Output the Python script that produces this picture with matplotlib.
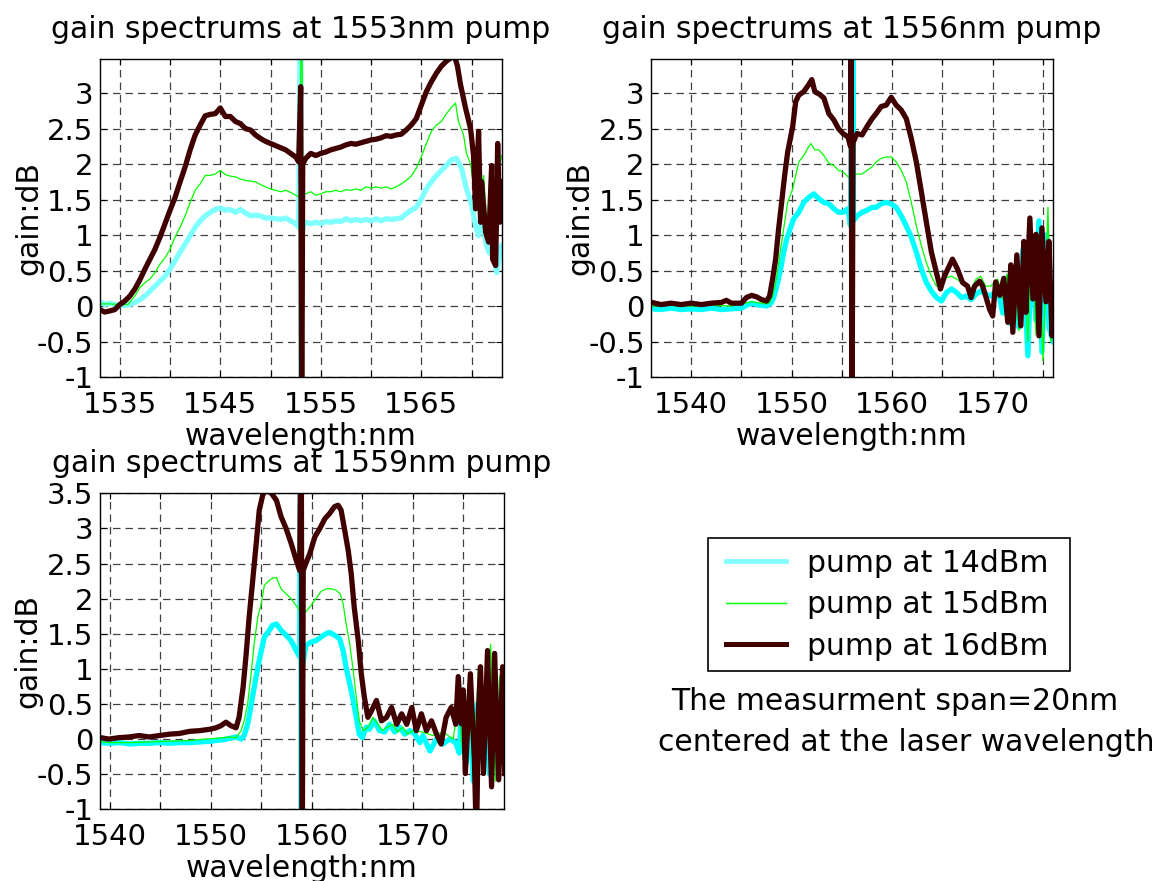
import matplotlib

matplotlib.use("Agg")
import matplotlib.pyplot as plt
from matplotlib.lines import Line2D
from matplotlib.patches import Rectangle

# ---- panel 1: pump at 1553 nm ----
P1_WL_14 = [1533.0, 1533.5, 1534.0, 1534.5, 1535.0, 1535.5, 1536.0, 1536.5, 1537.0, 1537.5,
            1538.0, 1538.5, 1539.0, 1539.5, 1540.0, 1540.5, 1541.0, 1541.5, 1542.0, 1542.5,
            1543.0, 1543.5, 1544.0, 1544.5, 1545.0, 1545.5, 1546.0, 1546.5, 1547.0, 1547.5,
            1548.0, 1548.5, 1549.0, 1549.5, 1550.0, 1550.5, 1551.0, 1551.5, 1552.0, 1552.5,
            1552.8, 1553.0, 1553.05, 1553.1, 1553.3, 1553.5, 1554.0, 1554.5, 1555.0, 1555.5,
            1556.0, 1556.5, 1557.0, 1557.5, 1558.0, 1558.5, 1559.0, 1559.5, 1560.0, 1560.5,
            1561.0, 1561.5, 1562.0, 1562.5, 1563.0, 1563.5, 1564.0, 1564.5, 1565.0, 1565.5,
            1566.0, 1566.5, 1567.0, 1567.5, 1568.0, 1568.5, 1569.0, 1569.5, 1570.0, 1570.4,
            1570.7, 1571.0, 1571.4, 1571.7, 1572.2, 1572.5, 1572.9, 1573.0]
P1_GAIN_14 = [0.06, 0.02, 0.04, 0.02, 0.01, 0.01, 0.02, 0.05, 0.09, 0.14,
              0.21, 0.28, 0.35, 0.42, 0.52, 0.64, 0.76, 0.87, 0.99, 1.11,
              1.20, 1.27, 1.32, 1.36, 1.38, 1.35, 1.36, 1.32, 1.36, 1.31,
              1.27, 1.28, 1.27, 1.24, 1.24, 1.23, 1.22, 1.24, 1.20, 1.16,
              1.11, 5.0, -2.0, 0.97, 1.15, 1.18, 1.16, 1.18, 1.16, 1.19,
              1.18, 1.20, 1.19, 1.23, 1.20, 1.22, 1.20, 1.22, 1.20, 1.23,
              1.20, 1.23, 1.22, 1.23, 1.24, 1.30, 1.35, 1.39, 1.51, 1.65,
              1.75, 1.84, 1.91, 1.98, 2.06, 2.08, 1.94, 1.65, 1.42, 1.13,
              0.99, 1.32, 0.90, 0.76, 0.71, 0.47, 0.80, 0.85]

P1_WL_15 = [1533.0, 1534.0, 1535.0, 1535.8, 1536.5, 1537.0, 1537.5, 1538.0, 1538.5, 1539.0,
            1539.5, 1540.0, 1540.5, 1541.0, 1541.5, 1542.0, 1542.5, 1543.0, 1543.5, 1544.0,
            1544.5, 1545.0, 1545.5, 1546.0, 1546.5, 1547.0, 1547.5, 1548.0, 1548.5, 1549.0,
            1549.5, 1550.0, 1550.5, 1551.0, 1551.5, 1552.0, 1552.5, 1552.9, 1553.1, 1553.2,
            1553.5, 1554.0, 1554.5, 1555.0, 1555.5, 1556.0, 1556.5, 1557.0, 1557.5, 1558.0,
            1558.5, 1559.0, 1559.5, 1560.0, 1560.5, 1561.0, 1561.5, 1562.0, 1562.5, 1563.0,
            1563.5, 1564.0, 1564.5, 1565.0, 1565.5, 1566.0, 1566.5, 1567.0, 1567.5, 1568.0,
            1568.4, 1568.7, 1569.2, 1569.5, 1569.9, 1570.3, 1570.7, 1571.2, 1571.6, 1572.0,
            1572.4, 1572.7, 1573.0]
P1_GAIN_15 = [0.03, 0.03, 0.02, 0.02, 0.14, 0.26, 0.33, 0.38, 0.47, 0.59,
              0.68, 0.80, 0.97, 1.11, 1.27, 1.46, 1.63, 1.72, 1.84, 1.84,
              1.86, 1.91, 1.85, 1.83, 1.82, 1.79, 1.77, 1.76, 1.75, 1.71,
              1.68, 1.65, 1.63, 1.61, 1.63, 1.60, 1.56, 1.53, 5.0, 1.58,
              1.58, 1.61, 1.56, 1.58, 1.61, 1.61, 1.63, 1.61, 1.64, 1.63,
              1.65, 1.63, 1.68, 1.66, 1.68, 1.66, 1.68, 1.65, 1.68, 1.72,
              1.77, 1.83, 1.94, 2.10, 2.29, 2.46, 2.55, 2.60, 2.71, 2.80,
              2.86, 2.60, 2.41, 2.15, 2.00, 1.60, 1.30, 1.84, 1.00, 1.50,
              0.70, 1.90, 2.12]

P1_WL_16 = [1533.0, 1533.5, 1534.0, 1534.5, 1535.0, 1535.5, 1536.0, 1536.5, 1537.0, 1537.5,
            1538.0, 1538.5, 1539.0, 1539.5, 1540.0, 1540.5, 1541.0, 1541.5, 1542.0, 1542.5,
            1543.0, 1543.5, 1544.0, 1544.5, 1545.0, 1545.5, 1546.0, 1546.5, 1547.0, 1547.5,
            1548.0, 1548.5, 1549.0, 1549.5, 1550.0, 1550.5, 1551.0, 1551.5, 1552.0, 1552.5,
            1552.8, 1553.0, 1553.1, 1553.2, 1553.5, 1554.0, 1554.5, 1555.0, 1555.5, 1556.0,
            1556.5, 1557.0, 1557.5, 1558.0, 1558.5, 1559.0, 1559.5, 1560.0, 1560.5, 1561.0,
            1561.5, 1562.0, 1562.5, 1563.0, 1563.5, 1564.0, 1564.5, 1565.0, 1565.5, 1566.0,
            1566.5, 1567.0, 1567.5, 1568.0, 1568.3, 1568.6, 1568.9, 1569.4, 1569.9, 1570.2,
            1570.4, 1570.7, 1570.9, 1571.0, 1571.4, 1571.7, 1572.0, 1572.1, 1572.4, 1572.6,
            1572.8, 1572.95, 1573.0]
P1_GAIN_16 = [-0.05, -0.085, -0.07, -0.05, 0.02, 0.07, 0.14, 0.24, 0.37, 0.52,
              0.66, 0.80, 0.97, 1.16, 1.35, 1.53, 1.75, 1.96, 2.20, 2.41,
              2.55, 2.68, 2.70, 2.71, 2.79, 2.67, 2.67, 2.60, 2.57, 2.50,
              2.48, 2.41, 2.36, 2.32, 2.29, 2.26, 2.23, 2.20, 2.15, 2.10,
              2.03, 3.09, -2.0, 2.00, 2.08, 2.15, 2.12, 2.15, 2.17, 2.20,
              2.22, 2.24, 2.27, 2.29, 2.28, 2.30, 2.32, 2.34, 2.35, 2.37,
              2.40, 2.39, 2.41, 2.42, 2.48, 2.55, 2.64, 2.83, 3.02, 3.16,
              3.28, 3.38, 3.45, 3.50, 3.52, 3.38, 3.12, 2.79, 2.50, 2.12,
              1.37, 2.46, 1.18, 1.75, 1.04, 0.90, 1.98, 0.66, 0.57, 2.29,
              1.18, 1.75, 1.51]

# ---- panel 2: pump at 1556 nm ----
P2_WL_14 = [1536.1, 1537.0, 1538.0, 1539.0, 1540.0, 1541.0, 1542.0, 1543.0, 1544.0, 1545.0,
            1545.5, 1546.0, 1546.5, 1547.0, 1547.5, 1548.0, 1548.25, 1548.6, 1548.9, 1549.2,
            1549.5, 1549.85, 1550.2, 1550.7, 1551.2, 1551.7, 1552.2, 1552.7, 1553.2, 1553.7,
            1554.2, 1554.65, 1555.1, 1555.6, 1555.85, 1556.1, 1556.15, 1556.5, 1557.0, 1557.5,
            1558.0, 1558.4, 1558.9, 1559.4, 1559.9, 1560.4, 1560.9, 1561.4, 1561.9, 1562.4,
            1562.9, 1563.4, 1563.9, 1564.4, 1564.9, 1565.4, 1565.9, 1566.4, 1566.9, 1567.4,
            1567.85, 1568.35, 1568.8, 1569.3, 1569.8, 1570.5, 1571.0, 1571.4, 1571.8, 1572.2,
            1572.6, 1573.0, 1573.5, 1573.9, 1574.3, 1574.6, 1574.9, 1575.3, 1575.6, 1576.0]
P2_GAIN_14 = [-0.04, -0.05, -0.03, -0.05, -0.04, -0.05, -0.03, -0.05, -0.04, -0.03,
              0.01, 0.04, 0.02, 0.01, 0.00, 0.05, 0.14, 0.33, 0.52, 0.76,
              0.94, 1.09, 1.23, 1.32, 1.46, 1.53, 1.58, 1.51, 1.46, 1.44,
              1.37, 1.32, 1.32, 1.37, 1.13, 5.0, 1.20, 1.27, 1.32, 1.35,
              1.39, 1.39, 1.44, 1.46, 1.44, 1.39, 1.27, 1.13, 0.97, 0.76,
              0.52, 0.33, 0.21, 0.12, 0.07, 0.19, 0.24, 0.19, 0.12, 0.14,
              0.09, 0.17, 0.21, 0.17, 0.14, 0.24, -0.10, 0.40, -0.25, 0.50,
              -0.30, 0.80, -0.70, 0.90, -0.20, 1.20, -0.65, 1.00, -0.30, -0.50]

P2_WL_15 = [1536.1, 1538.0, 1540.0, 1542.0, 1544.0, 1546.0, 1547.5, 1547.8, 1548.1, 1548.4,
            1548.7, 1549.0, 1549.3, 1549.6, 1550.1, 1550.4, 1550.7, 1551.2, 1551.5, 1551.9,
            1552.3, 1552.7, 1553.2, 1553.7, 1554.2, 1554.65, 1555.1, 1555.6, 1556.5, 1557.0,
            1557.5, 1558.0, 1558.4, 1558.9, 1559.4, 1559.9, 1560.4, 1560.9, 1561.4, 1561.9,
            1562.4, 1562.9, 1563.4, 1563.9, 1564.4, 1564.9, 1565.4, 1565.9, 1566.4, 1566.9,
            1567.4, 1567.85, 1568.35, 1568.8, 1569.3, 1569.8, 1570.5, 1571.0, 1571.4, 1571.8,
            1572.2, 1572.6, 1573.0, 1573.5, 1573.9, 1574.3, 1574.6, 1575.0, 1575.5, 1575.8,
            1576.0]
P2_GAIN_15 = [0.00, 0.01, 0.00, 0.01, 0.00, 0.06, 0.03, 0.05, 0.14, 0.33,
              0.61, 0.90, 1.18, 1.46, 1.65, 1.84, 2.03, 2.12, 2.20, 2.29,
              2.20, 2.20, 2.12, 2.01, 1.98, 1.91, 1.89, 1.82, 1.86, 1.86,
              1.91, 1.96, 2.03, 2.08, 2.10, 2.10, 2.03, 1.91, 1.75, 1.46,
              1.13, 0.85, 0.61, 0.42, 0.28, 0.33, 0.40, 0.42, 0.38, 0.33,
              0.28, 0.24, 0.38, 0.42, 0.28, 0.28, 0.38, 0.10, 0.45, -0.20,
              0.55, -0.35, 0.75, -0.50, 1.00, -0.40, 1.00, -0.77, 1.39, -0.50,
              -0.30]

P2_WL_16 = [1536.1, 1537.0, 1538.0, 1539.0, 1540.0, 1541.0, 1542.0, 1543.0, 1543.5, 1544.0,
            1545.0, 1545.5, 1546.0, 1546.5, 1547.0, 1547.5, 1547.8, 1548.1, 1548.4, 1548.7,
            1549.0, 1549.3, 1549.6, 1550.1, 1550.4, 1550.7, 1551.2, 1551.7, 1552.0, 1552.3,
            1552.8, 1553.2, 1553.7, 1554.2, 1554.65, 1555.1, 1555.6, 1555.85, 1555.9, 1556.0,
            1556.1, 1556.5, 1557.0, 1557.5, 1558.0, 1558.4, 1558.9, 1559.4, 1559.9, 1560.4,
            1560.9, 1561.4, 1561.9, 1562.4, 1562.9, 1563.4, 1563.9, 1564.4, 1564.8, 1565.2,
            1565.7, 1566.0, 1566.5, 1567.0, 1567.5, 1567.85, 1568.2, 1568.7, 1569.0, 1569.3,
            1569.7, 1570.0, 1570.3, 1570.7, 1571.1, 1571.5, 1571.8, 1572.0, 1572.4, 1572.8,
            1573.1, 1573.3, 1573.7, 1574.0, 1574.3, 1574.6, 1574.9, 1575.3, 1575.6, 1575.9,
            1576.0]
P2_GAIN_16 = [0.05, 0.02, 0.04, 0.02, 0.04, 0.02, 0.04, 0.05, 0.08, 0.04,
              0.04, 0.12, 0.15, 0.13, 0.09, 0.07, 0.14, 0.38, 0.66, 1.09,
              1.46, 1.84, 2.17, 2.53, 2.88, 2.97, 3.02, 3.12, 3.19, 3.02,
              2.98, 2.93, 2.71, 2.62, 2.50, 2.43, 2.38, 2.25, 5.0, -2.0,
              2.30, 2.43, 2.41, 2.53, 2.64, 2.71, 2.81, 2.83, 2.94, 2.83,
              2.76, 2.64, 2.36, 2.03, 1.61, 1.18, 0.76, 0.47, 0.24, 0.42,
              0.57, 0.66, 0.52, 0.33, 0.28, 0.12, 0.28, 0.35, 0.28, 0.14,
              -0.05, -0.14, 0.34, 0.15, 0.39, -0.23, 0.58, -0.37, 0.72, -0.28,
              0.91, -0.09, 1.24, 0.10, 1.01, -0.42, 1.10, 0.06, 0.91, -0.42,
              0.06]

# ---- panel 3: pump at 1559 nm ----
P3_WL_14 = [1539.1, 1540.0, 1541.0, 1542.0, 1543.0, 1544.0, 1545.0, 1546.0, 1547.0, 1548.0,
            1549.0, 1550.0, 1550.5, 1551.2, 1551.85, 1552.5, 1553.0, 1553.3, 1553.65, 1553.95,
            1554.3, 1554.65, 1555.0, 1555.3, 1555.8, 1556.1, 1556.5, 1556.95, 1557.45, 1557.95,
            1558.45, 1558.8, 1558.9, 1558.95, 1559.05, 1559.4, 1559.9, 1560.4, 1560.9, 1561.4,
            1561.75, 1562.25, 1562.75, 1563.1, 1563.4, 1563.75, 1564.1, 1564.4, 1564.7, 1565.0,
            1565.4, 1565.7, 1566.2, 1566.7, 1567.2, 1567.7, 1568.2, 1568.7, 1569.2, 1569.7,
            1570.2, 1570.7, 1571.0, 1571.7, 1572.35, 1573.0, 1573.65, 1574.25, 1574.6, 1574.9,
            1575.3, 1575.7, 1576.0, 1576.4, 1576.8, 1577.2, 1577.6, 1578.0, 1578.4, 1578.8,
            1579.1]
P3_GAIN_14 = [-0.05, -0.06, -0.05, -0.07, -0.06, -0.06, -0.05, -0.06, -0.05, -0.05,
              -0.04, -0.03, -0.02, -0.01, 0.01, 0.03, 0.00, 0.05, 0.21, 0.45,
              0.74, 1.02, 1.26, 1.45, 1.55, 1.62, 1.64, 1.55, 1.48, 1.40,
              1.26, 1.17, 5.0, -2.0, 1.00, 1.33, 1.38, 1.40, 1.45, 1.50,
              1.52, 1.48, 1.43, 1.26, 1.02, 0.79, 0.55, 0.31, 0.07, 0.02,
              0.17, 0.14, 0.26, 0.12, 0.10, 0.21, 0.10, 0.17, 0.07, 0.12,
              0.07, -0.05, 0.05, -0.17, 0.00, -0.07, 0.00, -0.05, -0.20, 0.70,
              -0.35, 0.30, -0.60, 0.50, -0.30, 0.60, -0.50, 0.50, -0.45, 0.40,
              0.35]

P3_WL_15 = [1539.1, 1540.0, 1542.0, 1544.0, 1546.0, 1548.0, 1549.5, 1550.5, 1551.85, 1552.5,
            1553.0, 1553.3, 1553.65, 1553.95, 1554.3, 1554.65, 1555.0, 1555.3, 1555.8, 1556.1,
            1556.5, 1556.95, 1557.45, 1557.95, 1558.45, 1558.8, 1559.4, 1559.9, 1560.4, 1560.9,
            1561.4, 1561.9, 1562.4, 1562.8, 1563.1, 1563.4, 1563.75, 1564.1, 1564.4, 1564.7,
            1565.1, 1565.55, 1566.05, 1566.55, 1567.0, 1567.5, 1568.0, 1568.5, 1569.0, 1569.5,
            1570.0, 1571.0, 1572.0, 1573.0, 1574.0, 1574.5, 1575.0, 1575.5, 1576.0, 1576.5,
            1577.0, 1577.7, 1578.2, 1578.6, 1579.1]
P3_GAIN_15 = [-0.04, -0.05, -0.05, -0.04, -0.03, -0.02, 0.00, 0.01, 0.03, 0.02,
              0.12, 0.26, 0.50, 0.88, 1.36, 1.74, 1.93, 2.19, 2.26, 2.29,
              2.30, 2.14, 2.07, 2.00, 1.90, 1.83, 1.81, 1.90, 2.00, 2.10,
              2.14, 2.14, 2.12, 2.07, 1.93, 1.64, 1.36, 0.98, 0.60, 0.26,
              0.12, 0.17, 0.31, 0.21, 0.12, 0.17, 0.21, 0.10, 0.17, 0.07,
              0.12, 0.10, 0.05, 0.10, 0.00, 0.50, -0.30, 0.80, -0.50, 1.00,
              -0.40, 1.35, -0.60, 0.90, -0.50]

P3_WL_16 = [1539.1, 1539.9, 1540.9, 1541.9, 1542.9, 1543.9, 1544.9, 1545.9, 1546.9, 1547.9,
            1548.9, 1549.9, 1550.5, 1551.0, 1551.5, 1552.0, 1552.5, 1552.8, 1553.2, 1553.5,
            1553.8, 1554.15, 1554.5, 1554.8, 1555.15, 1555.5, 1556.0, 1556.5, 1556.95, 1557.45,
            1557.95, 1558.45, 1558.8, 1558.95, 1559.05, 1559.15, 1559.4, 1559.8, 1560.3, 1560.8,
            1561.3, 1561.75, 1562.25, 1562.6, 1562.9, 1563.25, 1563.6, 1563.9, 1564.2, 1564.6,
            1564.9, 1565.2, 1565.55, 1565.9, 1566.4, 1566.9, 1567.4, 1567.9, 1568.4, 1568.9,
            1569.4, 1569.9, 1570.35, 1570.85, 1571.35, 1571.85, 1572.35, 1572.8, 1573.3, 1573.8,
            1574.25, 1574.5, 1574.8, 1575.0, 1575.2, 1575.7, 1576.1, 1576.3, 1576.5, 1576.7,
            1577.0, 1577.4, 1577.8, 1578.1, 1578.5, 1578.9, 1579.1]
P3_GAIN_16 = [0.02, 0.00, 0.02, 0.03, 0.05, 0.03, 0.05, 0.07, 0.08, 0.11,
              0.12, 0.14, 0.16, 0.19, 0.24, 0.19, 0.16, 0.31, 0.74, 1.21,
              1.74, 2.26, 2.79, 3.26, 3.48, 3.55, 3.50, 3.40, 3.17, 3.00,
              2.79, 2.55, 2.40, 5.0, -2.0, 2.40, 2.50, 2.64, 2.88, 3.00,
              3.14, 3.21, 3.31, 3.33, 3.26, 2.98, 2.69, 2.36, 1.88, 1.40,
              0.93, 0.60, 0.31, 0.40, 0.55, 0.26, 0.31, 0.45, 0.21, 0.36,
              0.21, 0.45, 0.12, 0.36, 0.12, 0.26, 0.07, -0.07, 0.31, 0.45,
              0.21, 0.89, 0.22, 0.70, -0.49, 0.93, -0.30, -1.50, 0.40, 1.03,
              -0.49, 1.26, -0.68, 1.22, -0.58, 1.03, -0.49]

SERIES_LABELS = ["pump at 14dBm", "pump at 15dBm", "pump at 16dBm"]
TITLES = ["gain spectrums at 1553nm pump",
          "gain spectrums at 1556nm pump",
          "gain spectrums at 1559nm pump"]
XLIMS = [(1533, 1573), (1536, 1576), (1539, 1579)]
XTICKS = [[1535, 1540, 1545, 1550, 1555, 1560, 1565, 1570],
          [1540, 1545, 1550, 1555, 1560, 1565, 1570, 1575],
          [1540, 1545, 1550, 1555, 1560, 1565, 1570, 1575]]
XTICK_LABELS = [["1535", "", "1545", "", "1555", "", "1565", ""],
                ["1540", "", "1550", "", "1560", "", "1570", ""],
                ["1540", "", "1550", "", "1560", "", "1570", ""]]
YLIMS = [(-1, 3.48), (-1, 3.48), (-1, 3.5)]
YTICKS = [[-1, -0.5, 0, 0.5, 1, 1.5, 2, 2.5, 3],
          [-1, -0.5, 0, 0.5, 1, 1.5, 2, 2.5, 3],
          [-1, -0.5, 0, 0.5, 1, 1.5, 2, 2.5, 3, 3.5]]
YTICK_LABELS = [["-1", "-0.5", "0", "0.5", "1", "1.5", "2", "2.5", "3"],
                ["-1", "-0.5", "0", "0.5", "1", "1.5", "2", "2.5", "3"],
                ["-1", "-0.5", "0", "0.5", "1", "1.5", "2", "2.5", "3", "3.5"]]
NOTE_LINES = ["The measurment span=20nm", "centered at the laser wavelength"]

CYAN_LIGHT = "#80FFFF"
CYAN = "#00FFFF"
GREEN = "#00FF00"
BROWN = "#400000"
FS = 21.5

W, H = 1173, 881


def px_rect(left, top, right, bottom):
    return [left / W, 1 - bottom / H, (right - left) / W, (bottom - top) / H]


def draw_panel(ax, i, series, cyan):
    (wl14, g14), (wl15, g15), (wl16, g16) = series
    ax.plot(wl14, g14, color=cyan, linewidth=3.8, solid_joinstyle="round")
    ax.plot(wl15, g15, color=GREEN, linewidth=0.9)
    ax.plot(wl16, g16, color=BROWN, linewidth=3.8, solid_joinstyle="round")

    ax.set_xlim(*XLIMS[i])
    ax.set_ylim(*YLIMS[i])
    ax.set_xticks(XTICKS[i])
    ax.set_xticklabels(XTICK_LABELS[i])
    ax.set_yticks(YTICKS[i])
    ax.set_yticklabels(YTICK_LABELS[i])
    ax.tick_params(direction="in", length=4, width=0.8, top=True, right=True,
                   labelsize=21)
    ax.tick_params(axis="x", pad=10)
    ax.tick_params(axis="y", pad=4.5)
    ax.grid(True, color="#404040", linewidth=0.9, linestyle=(0, (6, 4)))
    for sp in ax.spines.values():
        sp.set_linewidth(1.0)

    ax.set_title(TITLES[i], fontsize=FS, pad=15)
    ax.set_xlabel("wavelength:nm", fontsize=FS)
    ax.set_ylabel("gain:dB", fontsize=FS)
    ax.xaxis.set_label_coords(0.5, -0.142)
    ax.yaxis.set_label_coords(-0.141, 0.5)


fig = plt.figure(figsize=(W / 100, H / 100), dpi=100)

ax1 = fig.add_axes(px_rect(99.7, 59, 501.7, 377))
ax2 = fig.add_axes(px_rect(651, 59, 1053, 377))
ax3 = fig.add_axes(px_rect(99.7, 493.3, 503.7, 809.3))

draw_panel(ax1, 0, [(P1_WL_14, P1_GAIN_14), (P1_WL_15, P1_GAIN_15), (P1_WL_16, P1_GAIN_16)], CYAN_LIGHT)
draw_panel(ax2, 1, [(P2_WL_14, P2_GAIN_14), (P2_WL_15, P2_GAIN_15), (P2_WL_16, P2_GAIN_16)], CYAN)
draw_panel(ax3, 2, [(P3_WL_14, P3_GAIN_14), (P3_WL_15, P3_GAIN_15), (P3_WL_16, P3_GAIN_16)], CYAN)

# legend entries (frame drawn separately so its padding matches the original box)
handles = [Line2D([], [], color=CYAN_LIGHT, linewidth=3.4),
           Line2D([], [], color=GREEN, linewidth=1.0),
           Line2D([], [], color=BROWN, linewidth=3.6)]
fig.legend(handles, SERIES_LABELS, loc="upper left",
           bbox_to_anchor=(726 / W, 1 - 548.8 / H), bbox_transform=fig.transFigure,
           borderaxespad=0, borderpad=0, fontsize=FS, frameon=False,
           handlelength=2.0, handletextpad=0.72, labelspacing=0.42)
fig.add_artist(Rectangle((707.5 / W, 1 - 670.7 / H), (1070 - 707.5) / W, (670.7 - 538) / H,
                         transform=fig.transFigure, fill=False,
                         edgecolor="black", linewidth=1.2))

fig.text(671 / W, 1 - 710 / H, NOTE_LINES[0], fontsize=FS, va="baseline", ha="left")
fig.text(658 / W, 1 - 750.7 / H, NOTE_LINES[1], fontsize=FS, va="baseline", ha="left")

fig.savefig("out.png", dpi=100, facecolor="white")
